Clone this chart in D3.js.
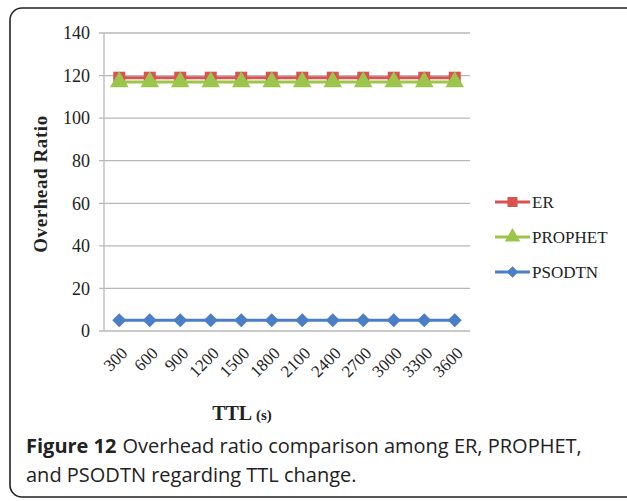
<!DOCTYPE html>
<html>
<head>
<meta charset="utf-8">
<script src="https://cdn.jsdelivr.net/npm/d3@7"></script>
<style>
  body { margin: 0; background: #fff; }
  svg { display: block; }
</style>
</head>
<body>
<svg id="chart" width="627" height="501"></svg>
<script>
// 数据
const ttl = ['300', '600', '900', '1200', '1500', '1800', '2100', '2400', '2700', '3000', '3300', '3600']
const er = [119, 119, 119, 119, 119, 119, 119, 119, 119, 119, 119, 119]
const prophet = [117, 117, 117, 117, 117, 117, 117, 117, 117, 117, 117, 117]
const psodtn = [5, 5, 5, 5, 5, 5, 5, 5, 5, 5, 5, 5]
const yTicks = [0, 20, 40, 60, 80, 100, 120, 140]

// Excel 风格的菱形（旋转的正方形）
const diamond = {
  draw (ctx, size) {
    const r = Math.sqrt(size / 2)
    ctx.moveTo(0, -r)
    ctx.lineTo(r, 0)
    ctx.lineTo(0, r)
    ctx.lineTo(-r, 0)
    ctx.closePath()
  }
}

const series = [
  { name: 'ER', values: er, color: '#d9534f', symbol: d3.symbolSquare, size: 144 },
  { name: 'PROPHET', values: prophet, color: '#9bc64b', symbol: d3.symbolTriangle, size: 150 },
  { name: 'PSODTN', values: psodtn, color: '#4a7fc7', symbol: diamond, size: 98 }
]

const svg = d3.select('#chart')
const serif = '"Liberation Serif", "Times New Roman", serif'

// 外框
svg.append('rect')
  .attr('x', 10).attr('y', 8)
  .attr('width', 630).attr('height', 489)
  .attr('rx', 12)
  .attr('fill', 'none')
  .attr('stroke', '#222')
  .attr('stroke-width', 1.6)

const plot = { left: 104, right: 470, top: 33, bottom: 331 }

const x = d3.scaleBand().domain(ttl).range([plot.left, plot.right])
const y = d3.scaleLinear().domain([0, 140]).range([plot.bottom, plot.top])

// 网格线
svg.append('g')
  .selectAll('line')
  .data(yTicks)
  .join('line')
  .attr('x1', plot.left - 5).attr('x2', plot.right)
  .attr('y1', d => y(d)).attr('y2', d => y(d))
  .attr('stroke', '#b8b8b8')
  .attr('stroke-width', 1.3)

// 纵轴
svg.append('line')
  .attr('x1', plot.left).attr('x2', plot.left)
  .attr('y1', plot.top).attr('y2', plot.bottom)
  .attr('stroke', '#b8b8b8')
  .attr('stroke-width', 1.3)

// 纵轴刻度
svg.append('g')
  .selectAll('text')
  .data(yTicks)
  .join('text')
  .attr('x', plot.left - 14)
  .attr('y', d => y(d))
  .attr('dy', '0.35em')
  .attr('text-anchor', 'end')
  .attr('font-family', serif)
  .attr('font-size', 18)
  .attr('fill', '#222')
  .text(d => d)

// 横轴刻度（倾斜）
svg.append('g')
  .selectAll('text')
  .data(ttl)
  .join('text')
  .attr('transform', d => `translate(${x(d) + x.bandwidth() / 2 + 5},${plot.bottom + 19}) rotate(-45)`)
  .attr('text-anchor', 'end')
  .attr('dy', '0.35em')
  .attr('font-family', serif)
  .attr('font-size', 17)
  .attr('fill', '#222')
  .text(d => d)

// 轴标题
svg.append('text')
  .attr('transform', `translate(47,${(plot.top + plot.bottom) / 2 + 2}) rotate(-90)`)
  .attr('text-anchor', 'middle')
  .attr('font-family', serif)
  .attr('font-weight', 'bold')
  .attr('font-size', 19)
  .attr('letter-spacing', 0.6)
  .attr('fill', '#222')
  .text('Overhead Ratio')

const xt = svg.append('text')
  .attr('x', 242).attr('y', 420)
  .attr('text-anchor', 'middle')
  .attr('font-family', serif)
  .attr('font-weight', 'bold')
  .attr('fill', '#222')
xt.append('tspan').attr('font-size', 20).text('TTL')
xt.append('tspan').attr('font-size', 15).text(' (s)')

// 折线与标记
const line = d3.line()
  .x((d, i) => x(ttl[i]) + x.bandwidth() / 2)
  .y(d => y(d))

series.forEach(s => {
  const g = svg.append('g')
  g.append('path')
    .attr('d', line(s.values))
    .attr('fill', 'none')
    .attr('stroke', s.color)
    .attr('stroke-width', 3)
  g.selectAll('path.m')
    .data(s.values)
    .join('path')
    .attr('class', 'm')
    .attr('transform', (d, i) => `translate(${x(ttl[i]) + x.bandwidth() / 2},${y(d)})`)
    .attr('d', d3.symbol(s.symbol, s.size))
    .attr('fill', s.color)
})

// 图例
const legend = svg.append('g')
  .selectAll('g')
  .data(series)
  .join('g')
  .attr('transform', (d, i) => `translate(495,${202 + i * 35})`)
legend.append('line')
  .attr('x1', 0).attr('x2', 35)
  .attr('stroke', d => d.color)
  .attr('stroke-width', 3)
legend.append('path')
  .attr('transform', 'translate(17.5,0)')
  .attr('d', d => d3.symbol(d.symbol, d.size * 0.7)())
  .attr('fill', d => d.color)
legend.append('text')
  .attr('x', 37)
  .attr('dy', '0.35em')
  .attr('font-family', serif)
  .attr('font-size', 17)
  .attr('fill', '#222')
  .text(d => d.name)

// 图注（粗体部分与正文分开放置）
const cap = svg.append('g')
  .attr('font-family', '"Open Sans", "Noto Sans", sans-serif')
  .attr('font-size', 20)
  .attr('fill', '#222')
const bold = cap.append('text')
  .attr('x', 26).attr('y', 453)
  .attr('font-weight', 'bold')
  .text('Figure 12')
const bw = bold.node().getComputedTextLength()
cap.append('text')
  .attr('x', 26 + bw + 6).attr('y', 453)
  .text('Overhead ratio comparison among ER, PROPHET,')
cap.append('text').attr('x', 26).attr('y', 482).text('and PSODTN regarding TTL change.')
</script>
</body>
</html>
